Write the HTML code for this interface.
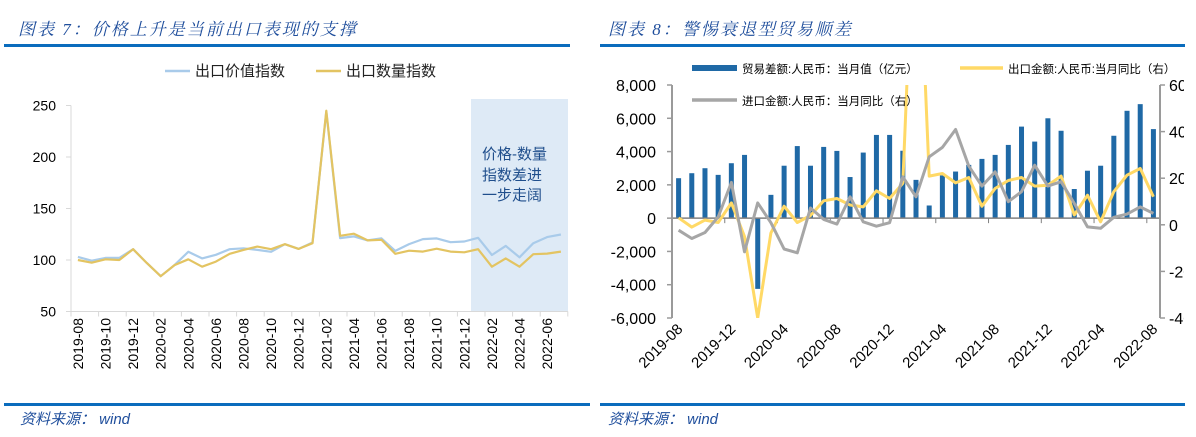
<!DOCTYPE html>
<html><head><meta charset="utf-8">
<style>
html,body{margin:0;padding:0;background:#fff;}
body{width:1196px;height:437px;overflow:hidden;position:relative;font-family:"Liberation Sans","Noto Sans CJK SC",sans-serif;}
.title{position:absolute;top:15px;font-family:"Liberation Serif","Noto Serif CJK SC",serif;font-style:italic;font-size:17px;color:#1f4e9c;letter-spacing:2px;}
.rule{position:absolute;height:3px;background:#0a6cbd;}
.src{position:absolute;top:408px;font-style:italic;font-size:15px;color:#1f4e9c;font-family:"Liberation Sans","Noto Sans CJK SC",sans-serif;}
svg{position:absolute;left:0;top:0;}
</style></head><body>
<div class="title" style="left:18px;">图表 7：价格上升是当前出口表现的支撑</div>
<div class="title" style="left:608px;">图表 8：警惕衰退型贸易顺差</div>
<div class="rule" style="left:4px;top:44px;width:566px;"></div>
<div class="rule" style="left:600px;top:44px;width:585px;"></div>
<div class="rule" style="left:4px;top:403px;width:586px;"></div>
<div class="rule" style="left:600px;top:403px;width:585px;"></div>
<div class="src" style="left:20px;">资料来源： wind</div>
<div class="src" style="left:608px;">资料来源： wind</div>

<svg id="left" width="600" height="400"></svg>
<svg id="right" width="1184" height="400"></svg>

<script>
// ---------- Left chart data ----------
const leftMonths = ["2019-08","2019-09","2019-10","2019-11","2019-12","2020-01","2020-02","2020-03","2020-04","2020-05","2020-06","2020-07","2020-08","2020-09","2020-10","2020-11","2020-12","2021-01","2021-02","2021-03","2021-04","2021-05","2021-06","2021-07","2021-08","2021-09","2021-10","2021-11","2021-12","2022-01","2022-02","2022-03","2022-04","2022-05","2022-06","2022-07"];
const valueIndex = [103,99.3,102,102,110.5,97,84.3,95,108,101.6,105,110.5,111.4,109.8,108,115.3,110.8,117,244,121.3,122.9,119,121,108.8,115.4,120.3,121,117.3,118,121.6,104.9,113.7,102.6,116.3,122.2,124.8];
const volumeIndex = [100,97.4,100.7,100,110.5,97,84.3,95,100.7,93.5,98.4,106,109.8,113,110.5,115.3,110.8,116.3,245,123.5,125.5,119,119.6,106,109,108.2,111,108.2,107.5,110.5,93.5,101.6,93.5,105.6,106.2,108.2];
const leftTicks = [50,100,150,200,250];

// ---------- Right chart data ----------
const rightMonths = ["2019-08","2019-09","2019-10","2019-11","2019-12","2020-01","2020-02","2020-03","2020-04","2020-05","2020-06","2020-07","2020-08","2020-09","2020-10","2020-11","2020-12","2021-01","2021-02","2021-03","2021-04","2021-05","2021-06","2021-07","2021-08","2021-09","2021-10","2021-11","2021-12","2022-01","2022-02","2022-03","2022-04","2022-05","2022-06","2022-07","2022-08"];
const tradeBalance = [2400,2700,3000,2600,3300,3800,-4250,1400,3150,4330,3150,4280,4040,2470,3940,5000,5000,4050,2300,760,2570,2800,3200,3560,3800,4400,5500,4600,6000,5250,1750,2850,3150,4950,6450,6850,5350];
const exportYoY = [3,-1,2,1,9.4,-5,-40,-3.5,8,1,4,10.3,11.3,8.5,7.7,14.6,11.3,17.8,155,20.9,22,18,20.3,8,15.6,19,20.3,16.6,17,20.9,4.2,12.7,1.3,14.2,21.3,24.2,12];
const importYoY = [-2.3,-5.9,-3.3,3.4,18.2,-11.6,9.4,0.9,-10.4,-12,7.2,2.3,0.3,12,1.3,-0.6,0.9,20.6,12,29.2,33.2,40.9,25.2,16.6,22.7,9.9,14.2,25.6,16.6,18.5,9.2,-0.9,-1.5,3.2,4.6,7.7,4.9];
const leftAxisTicks = [-6000,-4000,-2000,0,2000,4000,6000,8000];
const rightAxisTicks = [-40,-20,0,20,40,60];

const NS="http://www.w3.org/2000/svg";
function mk(svg,tag,attrs,text){const e=document.createElementNS(NS,tag);for(const k in attrs)e.setAttribute(k,attrs[k]);if(text!==undefined)e.textContent=text;svg.appendChild(e);return e;}

// ===== Left chart =====
(function(){
const svg=document.getElementById('left');
const x0=71,cw=13.8,n=leftMonths.length;
const xC=i=>x0+cw*(i+0.5);
const y=v=>260-(v-100)*1.03;
let e;
e=mk(svg,'rect',{x:471,y:99,width:97,height:y(50)-99,fill:'#deeaf6'});


e=mk(svg,'text',{x:482,y:159,'font-size':15,fill:'#1f4e8c'},'价格-数量');

e=mk(svg,'text',{x:482,y:180,'font-size':15,fill:'#1f4e8c'},'指数差进');

e=mk(svg,'text',{x:482,y:200,'font-size':15,fill:'#1f4e8c'},'一步走阔');

e=mk(svg,'line',{x1:x0,y1:y(250),x2:x0,y2:y(50),stroke:'#d9d9d9','stroke-width':1});

e=mk(svg,'line',{x1:x0,y1:y(50),x2:x0+cw*n,y2:y(50),stroke:'#d9d9d9','stroke-width':1});

leftTicks.forEach(t=>{
  mk(svg,'line',{x1:x0-5,y1:y(t),x2:x0,y2:y(t),stroke:'#d9d9d9'});
  e=mk(svg,'text',{x:56,y:y(t)+5,'font-size':14,'text-anchor':'end',fill:'#000'},t);
  
});
for(let i=0;i<=n;i+=2){mk(svg,'line',{x1:x0+cw*i,y1:y(50),x2:x0+cw*i,y2:y(50)+5,stroke:'#d9d9d9'});}
leftMonths.forEach((m,i)=>{ if(i%2) return;
  e=mk(svg,'text',{x:0,y:0,'font-size':14,'text-anchor':'end',fill:'#000',transform:`translate(${xC(i)+5},318) rotate(-90)`},m);
  
});
function line(vals,color,name){
  const d=vals.map((v,i)=>(i?'L':'M')+xC(i).toFixed(1)+','+y(v).toFixed(1)).join('');
  const p=mk(svg,'path',{d,fill:'none',stroke:color,'stroke-width':2.2,'stroke-linejoin':'round'});
  
}
line(valueIndex,'#a9cbea','export-value-index-line');
line(volumeIndex,'#e3c462','export-volume-index-line');
mk(svg,'line',{x1:165,y1:71,x2:190,y2:71,stroke:'#a9cbea','stroke-width':2.5});
e=mk(svg,'text',{x:195,y:76,'font-size':15,fill:'#222'},'出口价值指数');

mk(svg,'line',{x1:316,y1:71,x2:341,y2:71,stroke:'#e3c462','stroke-width':2.5});
e=mk(svg,'text',{x:346,y:76,'font-size':15,fill:'#222'},'出口数量指数');

})();

// ===== Right chart =====
(function(){
const svg=document.getElementById('right');
const x0=672,x1=1160,n=rightMonths.length,cw=(x1-x0)/n;
const xC=i=>x0+cw*(i+0.5);
const yL=v=>85+(8000-v)*(233/14000);
const yR=v=>85+(60-v)*(233/100);
let e;
const defs=mk(svg,'defs',{});
const cp=document.createElementNS(NS,'clipPath');cp.setAttribute('id','rc');defs.appendChild(cp);
mk(cp,'rect',{x:x0,y:85,width:x1-x0,height:233});
tradeBalance.forEach((v,i)=>{
  const top=Math.min(yL(v),yL(0)),h=Math.abs(yL(v)-yL(0));
  const b=mk(svg,'rect',{x:xC(i)-2.5,y:top,width:5,height:h,fill:'#1f69a6'});
  
  
});
e=mk(svg,'line',{x1:x0,y1:yL(0),x2:x1,y2:yL(0),stroke:'#808080','stroke-width':1.5});

for(let i=4;i<n;i+=4){mk(svg,'line',{x1:x0+cw*i,y1:yL(0),x2:x0+cw*i,y2:yL(0)+5,stroke:'#808080'});}
e=mk(svg,'line',{x1:x0,y1:85,x2:x0,y2:318,stroke:'#9a9a9a','stroke-width':2});

e=mk(svg,'line',{x1:x1,y1:85,x2:x1,y2:318,stroke:'#9a9a9a','stroke-width':2});

leftAxisTicks.forEach(t=>{
  mk(svg,'line',{x1:x0-5,y1:yL(t),x2:x0,y2:yL(t),stroke:'#9a9a9a','stroke-width':1.5});
  e=mk(svg,'text',{x:656,y:yL(t)+6,'font-size':16,'text-anchor':'end',fill:'#000'},t.toLocaleString('en-US'));
  
});
rightAxisTicks.forEach(t=>{
  mk(svg,'line',{x1:x1,y1:yR(t),x2:x1+5,y2:yR(t),stroke:'#9a9a9a','stroke-width':1.5});
  e=mk(svg,'text',{x:1169,y:yR(t)+6,'font-size':16,fill:'#000'},t);
  
});
rightMonths.forEach((m,i)=>{ if(i%4) return;
  e=mk(svg,'text',{x:0,y:0,'font-size':15,'text-anchor':'end',fill:'#000',transform:`translate(${xC(i)+5},${yL(-6000)+12}) rotate(-45)`},m);
  
});
function line(vals,color,name){
  const d=vals.map((v,i)=>(i?'L':'M')+xC(i).toFixed(1)+','+yR(v).toFixed(1)).join('');
  const p=mk(svg,'path',{d,fill:'none',stroke:color,'stroke-width':3,'stroke-linejoin':'round','clip-path':'url(#rc)'});
  
}
line(exportYoY,'#ffd966','export-yoy-line');
line(importYoY,'#a6a6a6','import-yoy-line');
mk(svg,'rect',{x:692,y:65,width:45,height:6,fill:'#1f69a6'});
e=mk(svg,'text',{x:742,y:73,'font-size':11.5,fill:'#000'},'贸易差额:人民币：当月值（亿元）');

mk(svg,'line',{x1:960,y1:68,x2:1003,y2:68,stroke:'#ffd966','stroke-width':3.5});
e=mk(svg,'text',{x:1008,y:73,'font-size':11.5,fill:'#000'},'出口金额:人民币:当月同比（右）');

mk(svg,'line',{x1:692,y1:100,x2:737,y2:100,stroke:'#a6a6a6','stroke-width':3.5});
e=mk(svg,'text',{x:742,y:105,'font-size':11.5,fill:'#000'},'进口金额:人民币：当月同比（右）');

})();
</script>
</body></html>
